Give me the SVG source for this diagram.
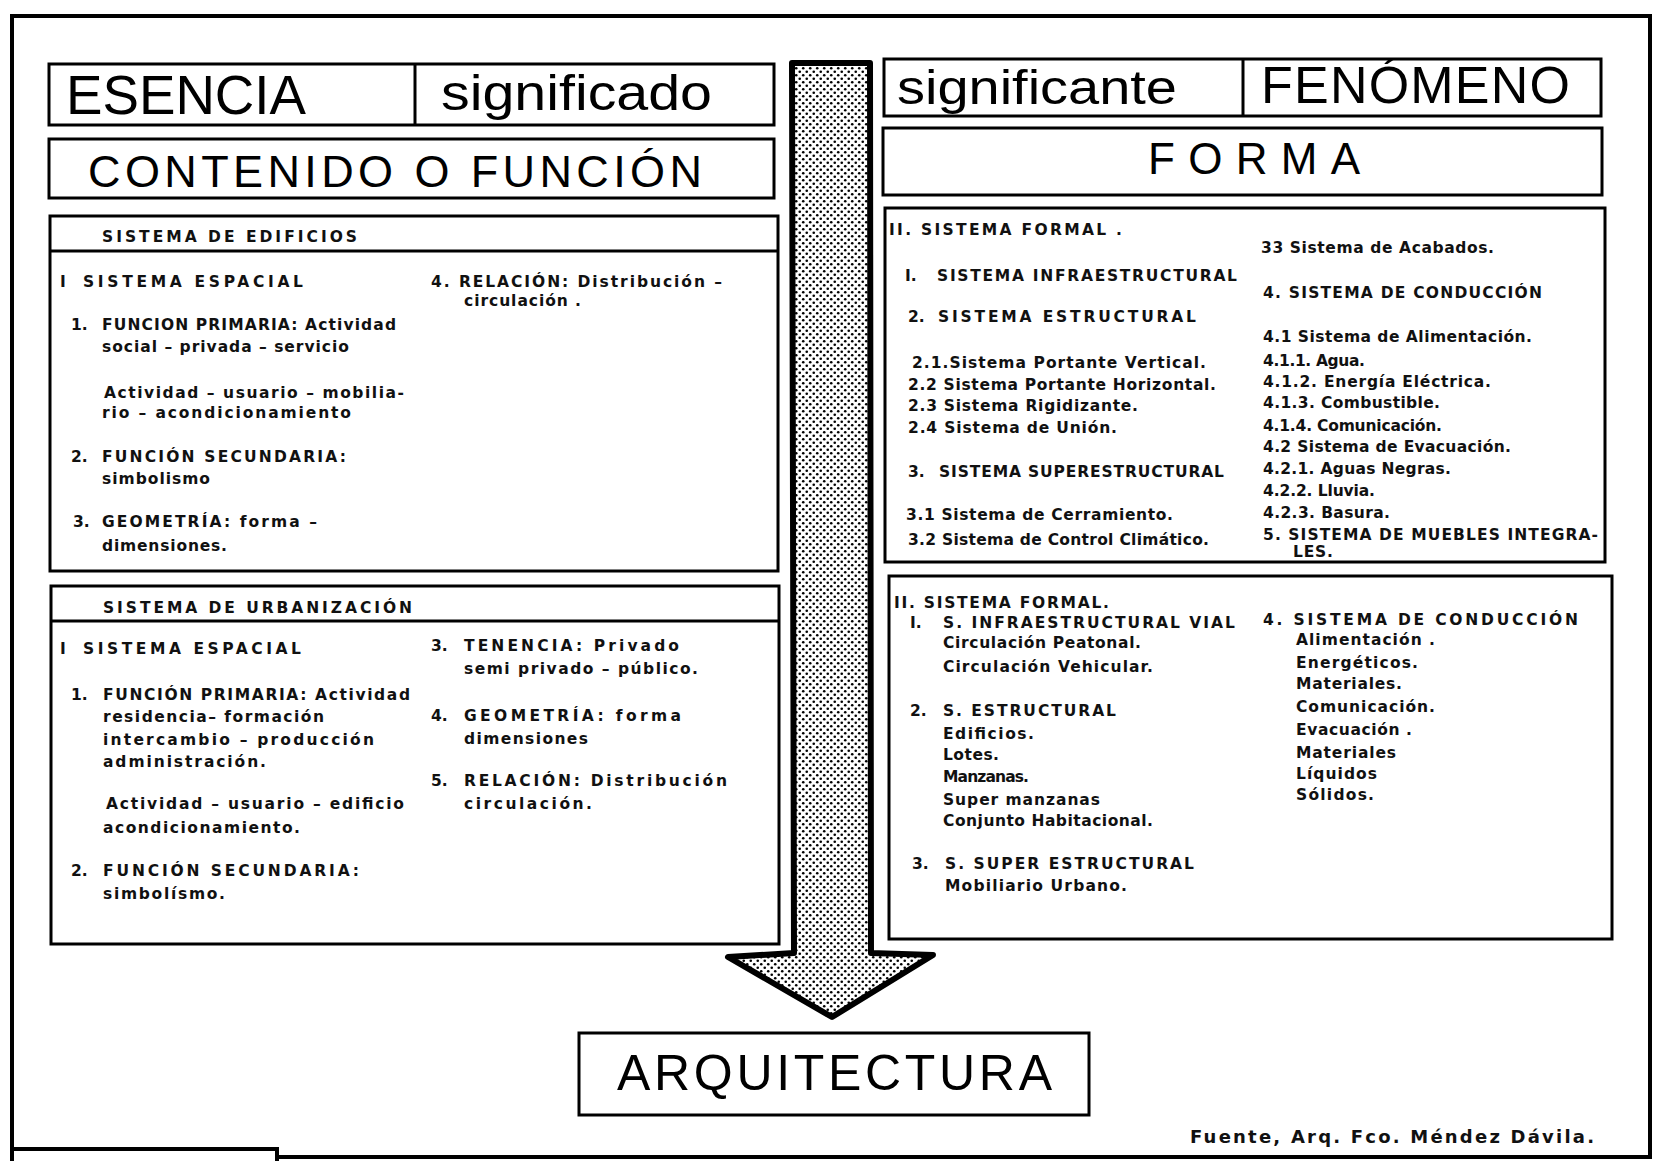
<svg xmlns="http://www.w3.org/2000/svg" width="1655" height="1161" viewBox="0 0 1655 1161">
<defs>
<pattern id="dots" width="7" height="7" patternUnits="userSpaceOnUse">
<rect width="7" height="7" fill="#fff"/>
<circle cx="1.75" cy="1.75" r="1.3" fill="#000"/>
<circle cx="5.25" cy="5.25" r="1.3" fill="#000"/>
</pattern>
</defs>
<style>
.box{fill:#fff;stroke:#000;stroke-width:3}
.ln{stroke:#000;stroke-width:3;fill:none}
.frame{fill:none;stroke:#000;stroke-width:4}
.big{font-family:"Liberation Sans",Arial,sans-serif;font-weight:normal;fill:#000}
.t{font-family:"DejaVu Sans","Liberation Sans",sans-serif;font-weight:bold;font-size:15.5px;fill:#111}
.f{font-size:18px}
.arrow{fill:url(#dots);stroke:#000;stroke-width:6;stroke-linejoin:round}
</style>
<rect width="1655" height="1161" fill="#fff"/>
<g id="frame">
<path class="frame" d="M12,1161 L12,16 L1650,16 L1650,1157 L277,1157"/>
<path class="frame" d="M12,1149 L277,1149 L277,1161"/>
</g>
<g id="connectors">
<path class="arrow" d="M792,63 L870,63 L871,953 L933,955 L832,1017 L728,957 L794,953 Z"/>
</g>
<g id="esencia">
<rect class="box" x="49" y="64" width="725" height="61"/>
<line class="ln" x1="415" y1="64" x2="415" y2="125"/>
<text class="big" x="66" y="114" font-size="55" textLength="240" lengthAdjust="spacingAndGlyphs">ESENCIA</text>
<text class="big" x="441" y="110" font-size="50" textLength="271" lengthAdjust="spacingAndGlyphs">significado</text>
</g>
<g id="contenido">
<rect class="box" x="49" y="139" width="725" height="59"/>
<text class="big" x="88" y="187" font-size="45" textLength="614" lengthAdjust="spacing">CONTENIDO O FUNCIÓN</text>
</g>
<g id="fenomeno">
<rect class="box" x="884" y="59" width="717" height="57"/>
<line class="ln" x1="1243" y1="59" x2="1243" y2="116"/>
<text class="big" x="897" y="104" font-size="48" textLength="280" lengthAdjust="spacingAndGlyphs">significante</text>
<text class="big" x="1261" y="103" font-size="52" textLength="309" lengthAdjust="spacing">FENÓMENO</text>
</g>
<g id="forma">
<rect class="box" x="883" y="128" width="719" height="67"/>
<text class="big" x="1148" y="174" font-size="44" textLength="212" lengthAdjust="spacing">FORMA</text>
</g>
<g id="edificios">
<rect class="box" x="50" y="216" width="728" height="355"/>
<line class="ln" x1="50" y1="251" x2="778" y2="251"/>
<text class="t" x="102" y="242" textLength="255" lengthAdjust="spacing">SISTEMA  DE  EDIFICIOS</text>
<text class="t" x="60" y="287">I</text>
<text class="t" x="83" y="287" textLength="220" lengthAdjust="spacing">SISTEMA  ESPACIAL</text>
<text class="t" x="71" y="330">1.</text>
<text class="t" x="102" y="330" textLength="294" lengthAdjust="spacing">FUNCION PRIMARIA:  Actividad</text>
<text class="t" x="102" y="352" textLength="247" lengthAdjust="spacing">social – privada – servicio</text>
<text class="t" x="104" y="398" textLength="300" lengthAdjust="spacing">Actividad – usuario – mobilia-</text>
<text class="t" x="102" y="418" textLength="249" lengthAdjust="spacing">rio – acondicionamiento</text>
<text class="t" x="71" y="462">2.</text>
<text class="t" x="102" y="462" textLength="244" lengthAdjust="spacing">FUNCIÓN  SECUNDARIA:</text>
<text class="t" x="102" y="484" textLength="108" lengthAdjust="spacing">simbolismo</text>
<text class="t" x="73" y="527">3.</text>
<text class="t" x="102" y="527" textLength="215" lengthAdjust="spacing">GEOMETRÍA:  forma –</text>
<text class="t" x="102" y="551" textLength="125" lengthAdjust="spacing">dimensiones.</text>
<text class="t" x="431" y="287" textLength="291" lengthAdjust="spacing">4.  RELACIÓN:  Distribución –</text>
<text class="t" x="464" y="306" textLength="117" lengthAdjust="spacing">circulación .</text>
</g>
<g id="urbanizacion">
<rect class="box" x="51" y="586" width="728" height="358"/>
<line class="ln" x1="51" y1="621" x2="779" y2="621"/>
<text class="t" x="103" y="613" textLength="309" lengthAdjust="spacing">SISTEMA DE URBANIZACIÓN</text>
<text class="t" x="60" y="654">I</text>
<text class="t" x="83" y="654" textLength="218" lengthAdjust="spacing">SISTEMA  ESPACIAL</text>
<text class="t" x="71" y="700">1.</text>
<text class="t" x="103" y="700" textLength="307" lengthAdjust="spacing">FUNCIÓN PRIMARIA: Actividad</text>
<text class="t" x="103" y="722" textLength="221" lengthAdjust="spacing">residencia– formación</text>
<text class="t" x="103" y="745" textLength="271" lengthAdjust="spacing">intercambio –  producción</text>
<text class="t" x="103" y="767" textLength="163" lengthAdjust="spacing">administración.</text>
<text class="t" x="106" y="809" textLength="298" lengthAdjust="spacing">Actividad – usuario – edificio</text>
<text class="t" x="103" y="833" textLength="197" lengthAdjust="spacing">acondicionamiento.</text>
<text class="t" x="71" y="876">2.</text>
<text class="t" x="103" y="876" textLength="256" lengthAdjust="spacing">FUNCIÓN  SECUNDARIA:</text>
<text class="t" x="103" y="899" textLength="122" lengthAdjust="spacing">simbolísmo.</text>
<text class="t" x="431" y="651">3.</text>
<text class="t" x="464" y="651" textLength="215" lengthAdjust="spacing">TENENCIA:  Privado</text>
<text class="t" x="464" y="674" textLength="234" lengthAdjust="spacing">semi privado – público.</text>
<text class="t" x="431" y="721">4.</text>
<text class="t" x="464" y="721" textLength="217" lengthAdjust="spacing">GEOMETRÍA:  forma</text>
<text class="t" x="464" y="744" textLength="124" lengthAdjust="spacing">dimensiones</text>
<text class="t" x="431" y="786">5.</text>
<text class="t" x="464" y="786" textLength="263" lengthAdjust="spacing">RELACIÓN: Distribución</text>
<text class="t" x="464" y="809" textLength="128" lengthAdjust="spacing">circulación.</text>
</g>
<g id="formal-edificios">
<rect class="box" x="885" y="208" width="720" height="354"/>
<text class="t" x="889" y="235" textLength="233" lengthAdjust="spacing">II. SISTEMA  FORMAL .</text>
<text class="t" x="905" y="281">I.</text>
<text class="t" x="937" y="281" textLength="300" lengthAdjust="spacing">SISTEMA  INFRAESTRUCTURAL</text>
<text class="t" x="908" y="322">2.</text>
<text class="t" x="938" y="322" textLength="258" lengthAdjust="spacing">SISTEMA  ESTRUCTURAL</text>
<text class="t" x="912" y="368" textLength="294" lengthAdjust="spacing">2.1.Sistema  Portante  Vertical.</text>
<text class="t" x="908" y="390" textLength="308" lengthAdjust="spacing">2.2 Sistema  Portante  Horizontal.</text>
<text class="t" x="908" y="411" textLength="230" lengthAdjust="spacing">2.3 Sistema  Rigidizante.</text>
<text class="t" x="908" y="433" textLength="209" lengthAdjust="spacing">2.4 Sistema  de  Unión.</text>
<text class="t" x="908" y="477">3.</text>
<text class="t" x="939" y="477" textLength="285" lengthAdjust="spacing">SISTEMA  SUPERESTRUCTURAL</text>
<text class="t" x="906" y="520" textLength="267" lengthAdjust="spacing">3.1 Sistema de  Cerramiento.</text>
<text class="t" x="908" y="545" textLength="301" lengthAdjust="spacing">3.2 Sistema de  Control  Climático.</text>
<text class="t" x="1261" y="253" textLength="233" lengthAdjust="spacing">33 Sistema  de  Acabados.</text>
<text class="t" x="1263" y="298" textLength="279" lengthAdjust="spacing">4.  SISTEMA  DE  CONDUCCIÓN</text>
<text class="t" x="1263" y="342" textLength="269" lengthAdjust="spacing">4.1 Sistema  de  Alimentación.</text>
<text class="t" x="1263" y="366" textLength="102" lengthAdjust="spacing">4.1.1.  Agua.</text>
<text class="t" x="1263" y="387" textLength="228" lengthAdjust="spacing">4.1.2. Energía  Eléctrica.</text>
<text class="t" x="1263" y="408" textLength="177" lengthAdjust="spacing">4.1.3. Combustible.</text>
<text class="t" x="1263" y="431" textLength="179" lengthAdjust="spacing">4.1.4. Comunicación.</text>
<text class="t" x="1263" y="452" textLength="248" lengthAdjust="spacing">4.2 Sistema  de  Evacuación.</text>
<text class="t" x="1263" y="474" textLength="188" lengthAdjust="spacing">4.2.1. Aguas  Negras.</text>
<text class="t" x="1263" y="496" textLength="112" lengthAdjust="spacing">4.2.2. Lluvia.</text>
<text class="t" x="1263" y="518" textLength="127" lengthAdjust="spacing">4.2.3. Basura.</text>
<text class="t" x="1263" y="540" textLength="335" lengthAdjust="spacing">5.  SISTEMA  DE  MUEBLES  INTEGRA-</text>
<text class="t" x="1293" y="557" textLength="40" lengthAdjust="spacing">LES.</text>
</g>
<g id="formal-urbanizacion">
<rect class="box" x="889" y="576" width="723" height="363"/>
<text class="t" x="894" y="608" textLength="215" lengthAdjust="spacing">II. SISTEMA  FORMAL.</text>
<text class="t" x="910" y="628">I.</text>
<text class="t" x="943" y="628" textLength="292" lengthAdjust="spacing">S. INFRAESTRUCTURAL  VIAL</text>
<text class="t" x="943" y="648" textLength="198" lengthAdjust="spacing">Circulación  Peatonal.</text>
<text class="t" x="943" y="672" textLength="210" lengthAdjust="spacing">Circulación  Vehicular.</text>
<text class="t" x="910" y="716">2.</text>
<text class="t" x="943" y="716" textLength="173" lengthAdjust="spacing">S. ESTRUCTURAL</text>
<text class="t" x="943" y="739" textLength="91" lengthAdjust="spacing">Edificios.</text>
<text class="t" x="943" y="760" textLength="56" lengthAdjust="spacing">Lotes.</text>
<text class="t" x="943" y="782" textLength="86" lengthAdjust="spacing">Manzanas.</text>
<text class="t" x="943" y="805" textLength="157" lengthAdjust="spacing">Super  manzanas</text>
<text class="t" x="943" y="826" textLength="210" lengthAdjust="spacing">Conjunto  Habitacional.</text>
<text class="t" x="912" y="869">3.</text>
<text class="t" x="945" y="869" textLength="249" lengthAdjust="spacing">S. SUPER ESTRUCTURAL</text>
<text class="t" x="945" y="891" textLength="182" lengthAdjust="spacing">Mobiliario  Urbano.</text>
<text class="t" x="1263" y="625" textLength="315" lengthAdjust="spacing">4.  SISTEMA DE CONDUCCIÓN</text>
<text class="t" x="1296" y="645" textLength="139" lengthAdjust="spacing">Alimentación .</text>
<text class="t" x="1296" y="668" textLength="122" lengthAdjust="spacing">Energéticos.</text>
<text class="t" x="1296" y="689" textLength="106" lengthAdjust="spacing">Materiales.</text>
<text class="t" x="1296" y="712" textLength="139" lengthAdjust="spacing">Comunicación.</text>
<text class="t" x="1296" y="735" textLength="116" lengthAdjust="spacing">Evacuación .</text>
<text class="t" x="1296" y="758" textLength="100" lengthAdjust="spacing">Materiales</text>
<text class="t" x="1296" y="779" textLength="81" lengthAdjust="spacing">Líquidos</text>
<text class="t" x="1296" y="800" textLength="78" lengthAdjust="spacing">Sólidos.</text>
</g>
<g id="arquitectura">
<rect class="box" x="579" y="1033" width="510" height="82"/>
<text class="big" x="617" y="1090" font-size="50" textLength="435" lengthAdjust="spacing">ARQUITECTURA</text>
</g>
<g id="fuente">
<text class="t f" x="1190" y="1143" textLength="404" lengthAdjust="spacing">Fuente, Arq. Fco. Méndez Dávila.</text>
</g>
</svg>
